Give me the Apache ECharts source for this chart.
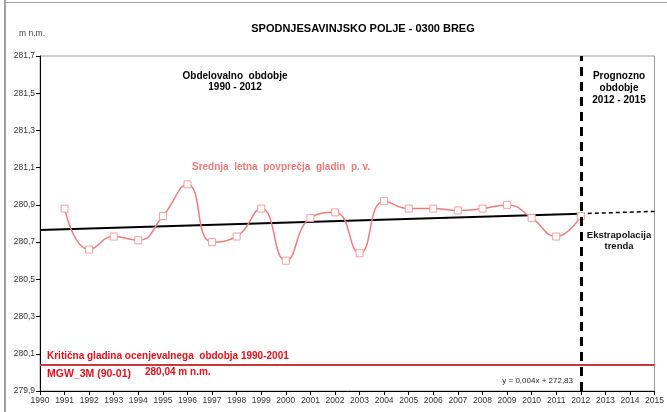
<!DOCTYPE html>
<html>
<head>
<meta charset="utf-8">
<script src="https://cdn.jsdelivr.net/npm/echarts@6/dist/echarts.min.js"></script>
<style>
  html, body { margin: 0; padding: 0; background: #fff; }
  #chart { width: 667px; height: 412px; }
</style>
</head>
<body>
<div id="chart"></div>
<script>
// letna povprecja gladin p. v. (m n.m.)
var years = [1991, 1992, 1993, 1994, 1995, 1996, 1997, 1998, 1999, 2000, 2001,
             2002, 2003, 2004, 2005, 2006, 2007, 2008, 2009, 2010, 2011, 2012];
var levels = [280.88, 280.66, 280.73, 280.71, 280.84, 281.01, 280.70, 280.73, 280.88, 280.60, 280.83,
              280.86, 280.64, 280.92, 280.88, 280.88, 280.87, 280.88, 280.90, 280.83, 280.73, 280.84];

// linearni trend in ekstrapolacija
var trendYears = [1990, 2012];
var trendValues = [280.765, 280.853];
var extraYears = [2012, 2015];
var extraValues = [280.853, 280.865];

var criticalLevel = 280.04;
var forecastStart = 2012;

var chartDom = document.getElementById("chart");
var myChart = echarts.init(chartDom);

var font = "Liberation Sans, Arial, sans-serif";

function pairs(xs, ys) {
  return xs.map(function (x, i) { return [x, ys[i]]; });
}

var option = {
  animation: false,
  grid: {
    left: 40, right: 11, top: 56, bottom: 21,
    show: true, borderColor: "#9a9a9a", borderWidth: 1
  },
  xAxis: {
    type: "value",
    min: 1990, max: 2015, interval: 1,
    axisLine: { lineStyle: { color: "#000", width: 1 } },
    axisTick: { show: true, length: 4, lineStyle: { color: "#000" } },
    axisLabel: {
      color: "#333", fontSize: 8.5, fontFamily: font, margin: 5,
      formatter: function (v) { return String(v); }
    },
    splitLine: { show: false }
  },
  yAxis: {
    type: "value",
    min: 279.9, max: 281.7, interval: 0.2,
    axisLine: { show: true, lineStyle: { color: "#000", width: 1 } },
    axisTick: { show: true, length: 4, lineStyle: { color: "#000" } },
    axisLabel: {
      color: "#333", fontSize: 8.5, fontFamily: font, margin: 5,
      formatter: function (v) { return v.toFixed(1).replace(".", ","); }
    },
    splitLine: { show: false }
  },
  series: [
    {
      type: "line",
      data: pairs(trendYears, trendValues),
      symbol: "none",
      lineStyle: { color: "#000", width: 2 },
      z: 3,
      markLine: {
        silent: true,
        symbol: "none",
        label: { show: false },
        data: [
          { xAxis: forecastStart, lineStyle: { color: "#000", width: 3, type: [9, 6] } },
          { yAxis: criticalLevel, lineStyle: { color: "#c8383c", width: 2, type: "solid" } }
        ]
      }
    },
    {
      type: "line",
      data: pairs(extraYears, extraValues),
      symbol: "none",
      lineStyle: { color: "#000", width: 1.5, type: [4, 3] },
      z: 3
    },
    {
      type: "line",
      data: pairs(years, levels),
      smooth: 0.5,
      symbol: "rect",
      symbolSize: 7,
      itemStyle: { color: "#fff", borderColor: "#f2a0a0", borderWidth: 1 },
      lineStyle: { color: "#ee7d7d", width: 1.5 },
      z: 4
    }
  ],
  graphic: [
    { type: "rect", shape: { x: 4, y: 0, width: 2, height: 412 }, style: { fill: "#a0a0a0" } },
    { type: "rect", shape: { x: 4, y: 2, width: 663, height: 1 }, style: { fill: "#a0a0a0" } },
    { type: "text", style: { text: "SPODNJESAVINJSKO POLJE - 0300 BREG", x: 363, y: 29, align: "center", verticalAlign: "middle", font: "bold 11px " + font, fill: "#000" } },
    { type: "text", style: { text: "m n.m.", x: 32, y: 34, align: "center", verticalAlign: "middle", font: "8.5px " + font, fill: "#444" } },
    { type: "text", style: { text: "Obdelovalno  obdobje\n1990 - 2012", x: 235, y: 82, align: "center", verticalAlign: "middle", lineHeight: 11, font: "bold 10px " + font, fill: "#000" } },
    { type: "text", style: { text: "Prognozno\nobdobje\n2012 - 2015", x: 619, y: 88, align: "center", verticalAlign: "middle", lineHeight: 12, font: "bold 10px " + font, fill: "#000" } },
    { type: "text", style: { text: "Srednja  letna  povprečja  gladin  p. v.", x: 192, y: 167, align: "left", verticalAlign: "middle", font: "bold 10px " + font, fill: "#f07a7a" } },
    { type: "text", style: { text: "Ekstrapolacija\ntrenda", x: 619, y: 241, align: "center", verticalAlign: "middle", lineHeight: 11, font: "bold 9.5px " + font, fill: "#111" } },
    { type: "text", style: { text: "Kritična gladina ocenjevalnega  obdobja 1990-2001", x: 47, y: 356, align: "left", verticalAlign: "middle", font: "bold 10px " + font, fill: "#e0101c" } },
    { type: "text", style: { text: "MGW_3M (90-01)", x: 47, y: 374, align: "left", verticalAlign: "middle", font: "bold 10.5px " + font, fill: "#e0101c" } },
    { type: "text", style: { text: "280,04 m n.m.", x: 145, y: 372, align: "left", verticalAlign: "middle", font: "bold 10px " + font, fill: "#e0101c" } },
    { type: "text", style: { text: "y = 0,004x + 272,83", x: 573, y: 381, align: "right", verticalAlign: "middle", font: "8px " + font, fill: "#222" } }
  ]
};

myChart.setOption(option);

window.addEventListener("resize", function () {
  myChart.resize();
});
</script>
</body>
</html>
